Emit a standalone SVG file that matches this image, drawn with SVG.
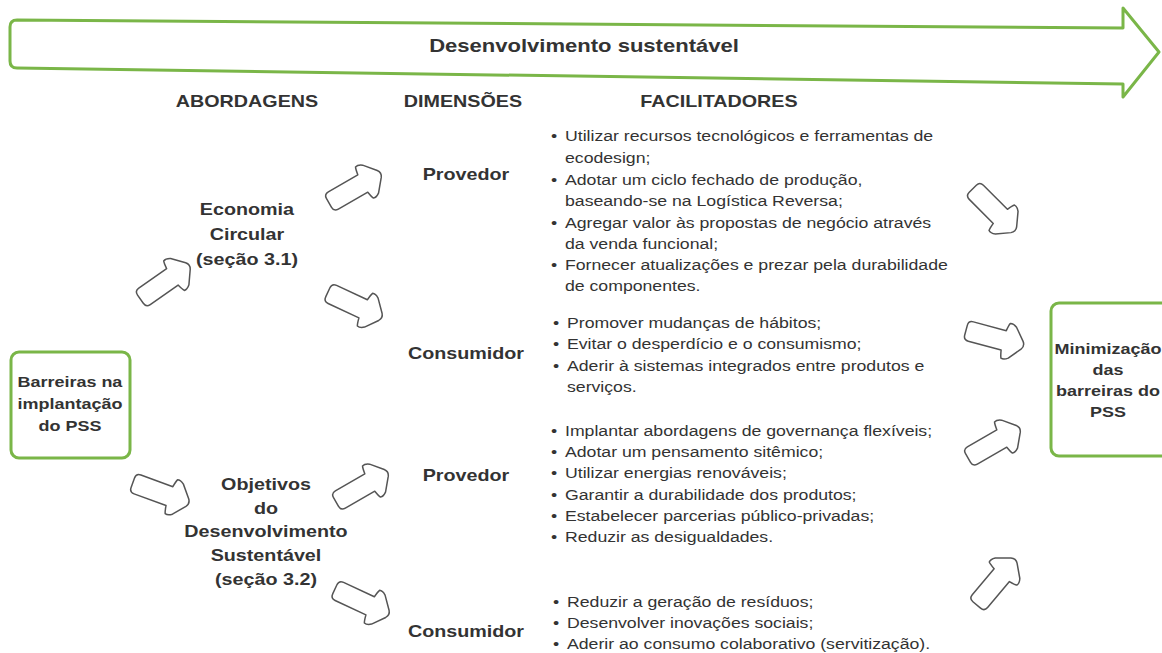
<svg xmlns="http://www.w3.org/2000/svg" width="1162" height="653" viewBox="0 0 1162 653">
<defs>
<style>
.g{fill:#fff;stroke:#7ab648;stroke-width:3;stroke-linejoin:round}
.t{font-family:"Liberation Sans",Arial,sans-serif;fill:#333}
.b{font-weight:bold;font-size:17px;text-anchor:middle;transform-box:fill-box;transform-origin:center;transform:scaleX(1.16)}
.f text{font-size:15.5px;transform-box:fill-box;transform-origin:left center;transform:scaleX(1.14)}
.arr{fill:#fff;stroke:#555;stroke-width:1.5;stroke-linejoin:round}
</style>
<path id="ba" class="arr" d="M -25,-10 L 9,-10 Q 10,-16 11,-18 Q 14,-19 18,-16 L 28,-4 Q 31,0 28,4 L 18,16 Q 14,19 11,18 Q 10,16 9,10 L -25,10 Q -30,10 -30,5 L -30,-5 Q -30,-10 -25,-10 Z"/>
</defs>
<rect width="1162" height="653" fill="#fff"/>
<g id="banner">
<path class="g" d="M 17,20 L 1123,28 L 1123,8 L 1159,52 L 1123,97 L 1123,84 L 17,68 Q 10,68 10,61 L 10,27 Q 10,20 17,20 Z"/>
<text class="t b" x="584" y="52" style="font-size:19px">Desenvolvimento sustentável</text>
</g>
<g id="headers">
<text class="t b" x="247" y="107">ABORDAGENS</text>
<text class="t b" x="463" y="107">DIMENSÕES</text>
<text class="t b" x="719" y="107">FACILITADORES</text>
</g>
<g id="barreiras">
<rect class="g" x="11" y="352" width="119" height="106" rx="8"/>
<text class="t b" x="70" y="387" style="font-size:15.5px">Barreiras na</text>
<text class="t b" x="70" y="409" style="font-size:15.5px">implantação</text>
<text class="t b" x="70" y="431" style="font-size:15.5px">do PSS</text>
</g>
<g id="minimizacao">
<rect class="g" x="1051" y="303" width="120" height="153" rx="8"/>
<text class="t b" x="1108" y="354" style="font-size:15.5px">Minimização</text>
<text class="t b" x="1108" y="375" style="font-size:15.5px">das</text>
<text class="t b" x="1108" y="396" style="font-size:15.5px">barreiras do</text>
<text class="t b" x="1108" y="417" style="font-size:15.5px">PSS</text>
</g>
<g id="economia">
<text class="t b" x="247" y="215">Economia</text>
<text class="t b" x="247" y="240">Circular</text>
<text class="t b" x="247" y="265">(seção 3.1)</text>
</g>
<g id="ods">
<text class="t b" x="266" y="490">Objetivos</text>
<text class="t b" x="266" y="514">do</text>
<text class="t b" x="266" y="537">Desenvolvimento</text>
<text class="t b" x="266" y="561">Sustentável</text>
<text class="t b" x="266" y="585">(seção 3.2)</text>
</g>
<g id="dim1"><text class="t b" x="466" y="180">Provedor</text></g>
<g id="dim2"><text class="t b" x="466" y="359">Consumidor</text></g>
<g id="dim3"><text class="t b" x="466" y="481">Provedor</text></g>
<g id="dim4"><text class="t b" x="466" y="637">Consumidor</text></g>
<g id="fac1" class="t f">
<text x="551" y="141">•</text><text x="565" y="141">Utilizar recursos tecnológicos e ferramentas de</text>
<text x="565" y="163">ecodesign;</text>
<text x="551" y="185">•</text><text x="565" y="185">Adotar um ciclo fechado de produção,</text>
<text x="565" y="206">baseando-se na Logística Reversa;</text>
<text x="551" y="228">•</text><text x="565" y="228">Agregar valor às propostas de negócio através</text>
<text x="565" y="249">da venda funcional;</text>
<text x="551" y="270">•</text><text x="565" y="270">Fornecer atualizações e prezar pela durabilidade</text>
<text x="565" y="291">de componentes.</text>
</g>
<g id="fac2" class="t f">
<text x="553" y="328">•</text><text x="567" y="328">Promover mudanças de hábitos;</text>
<text x="553" y="349">•</text><text x="567" y="349">Evitar o desperdício e o consumismo;</text>
<text x="553" y="371">•</text><text x="567" y="371">Aderir à sistemas integrados entre produtos e</text>
<text x="567" y="392">serviços.</text>
</g>
<g id="fac3" class="t f">
<text x="551" y="436">•</text><text x="565" y="436">Implantar abordagens de governança flexíveis;</text>
<text x="551" y="457">•</text><text x="565" y="457">Adotar um pensamento sitêmico;</text>
<text x="551" y="478">•</text><text x="565" y="478">Utilizar energias renováveis;</text>
<text x="551" y="500">•</text><text x="565" y="500">Garantir a durabilidade dos produtos;</text>
<text x="551" y="521">•</text><text x="565" y="521">Estabelecer parcerias público-privadas;</text>
<text x="551" y="542">•</text><text x="565" y="542">Reduzir as desigualdades.</text>
</g>
<g id="fac4" class="t f">
<text x="553" y="607">•</text><text x="567" y="607">Reduzir a geração de resíduos;</text>
<text x="553" y="628">•</text><text x="567" y="628">Desenvolver inovações sociais;</text>
<text x="553" y="649">•</text><text x="567" y="649">Aderir ao consumo colaborativo (servitização).</text>
</g>
<g id="connectors">
<use href="#ba" transform="translate(165,282) rotate(-35)"/>
<use href="#ba" transform="translate(355,188) rotate(-30)"/>
<use href="#ba" transform="translate(355,305) rotate(25)"/>
<use href="#ba" transform="translate(161,493) rotate(20)"/>
<use href="#ba" transform="translate(362,487) rotate(-30)"/>
<use href="#ba" transform="translate(362,602) rotate(25)"/>
<use href="#ba" transform="translate(994,210) rotate(45)"/>
<use href="#ba" transform="translate(995,338) rotate(15)"/>
<use href="#ba" transform="translate(994,443) rotate(-30)"/>
<use href="#ba" transform="translate(996,582) rotate(-50)"/>
</g>
</svg>
